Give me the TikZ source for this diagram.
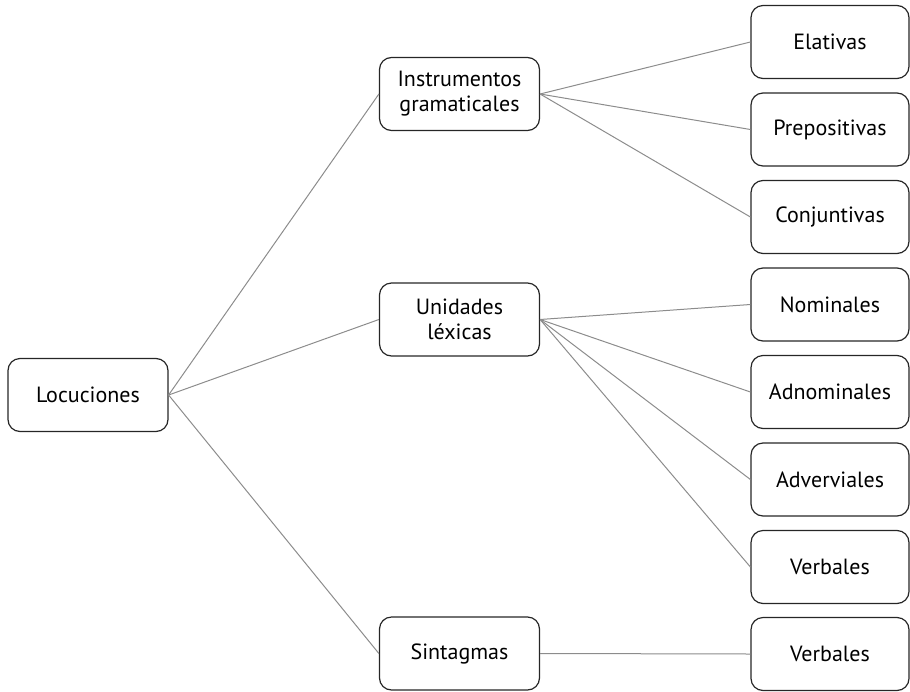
\documentclass[tikz,border=0pt]{standalone}
\usepackage{fontspec}
\setmainfont{PT Sans}
\begin{document}
\begin{tikzpicture}[x=1pt,y=-1pt,
  box/.style={draw=black!85,line width=1.2pt,rounded corners=12pt,minimum width=160pt,minimum height=73pt,align=center,font=\fontsize{22}{25}\selectfont,inner sep=0pt},
  link/.style={draw=black!45,line width=1pt}]
\useasboundingbox (0,0) rectangle (910,691);
\node[box] (loc) at (88,395) {Locuciones};
\node[box] (ins) at (459.5,94) {Instrumentos\\gramaticales};
\node[box] (uni) at (459.5,319.5) {Unidades\\léxicas};
\node[box] (sin) at (459.5,653.5) {Sintagmas};
\node[box,minimum width=158pt] (ela) at (830,42) {Elativas};
\node[box,minimum width=158pt] (pre) at (830,129.5) {Prepositivas};
\node[box,minimum width=158pt] (con) at (830,217) {Conjuntivas};
\node[box,minimum width=158pt] (nom) at (830,304.5) {Nominales};
\node[box,minimum width=158pt] (adn) at (830,392) {Adnominales};
\node[box,minimum width=158pt] (adv) at (830,479.5) {Adverviales};
\node[box,minimum width=158pt] (ver) at (830,567) {Verbales};
\node[box,minimum width=158pt] (ver2) at (830,654) {Verbales};
\draw[link] (loc.east) -- (ins.west);
\draw[link] (loc.east) -- (uni.west);
\draw[link] (loc.east) -- (sin.west);
\draw[link] (ins.east) -- (ela.west);
\draw[link] (ins.east) -- (pre.west);
\draw[link] (ins.east) -- (con.west);
\draw[link] (uni.east) -- (nom.west);
\draw[link] (uni.east) -- (adn.west);
\draw[link] (uni.east) -- (adv.west);
\draw[link] (uni.east) -- (ver.west);
\draw[link] (sin.east) -- (ver2.west);
\end{tikzpicture}
\end{document}
